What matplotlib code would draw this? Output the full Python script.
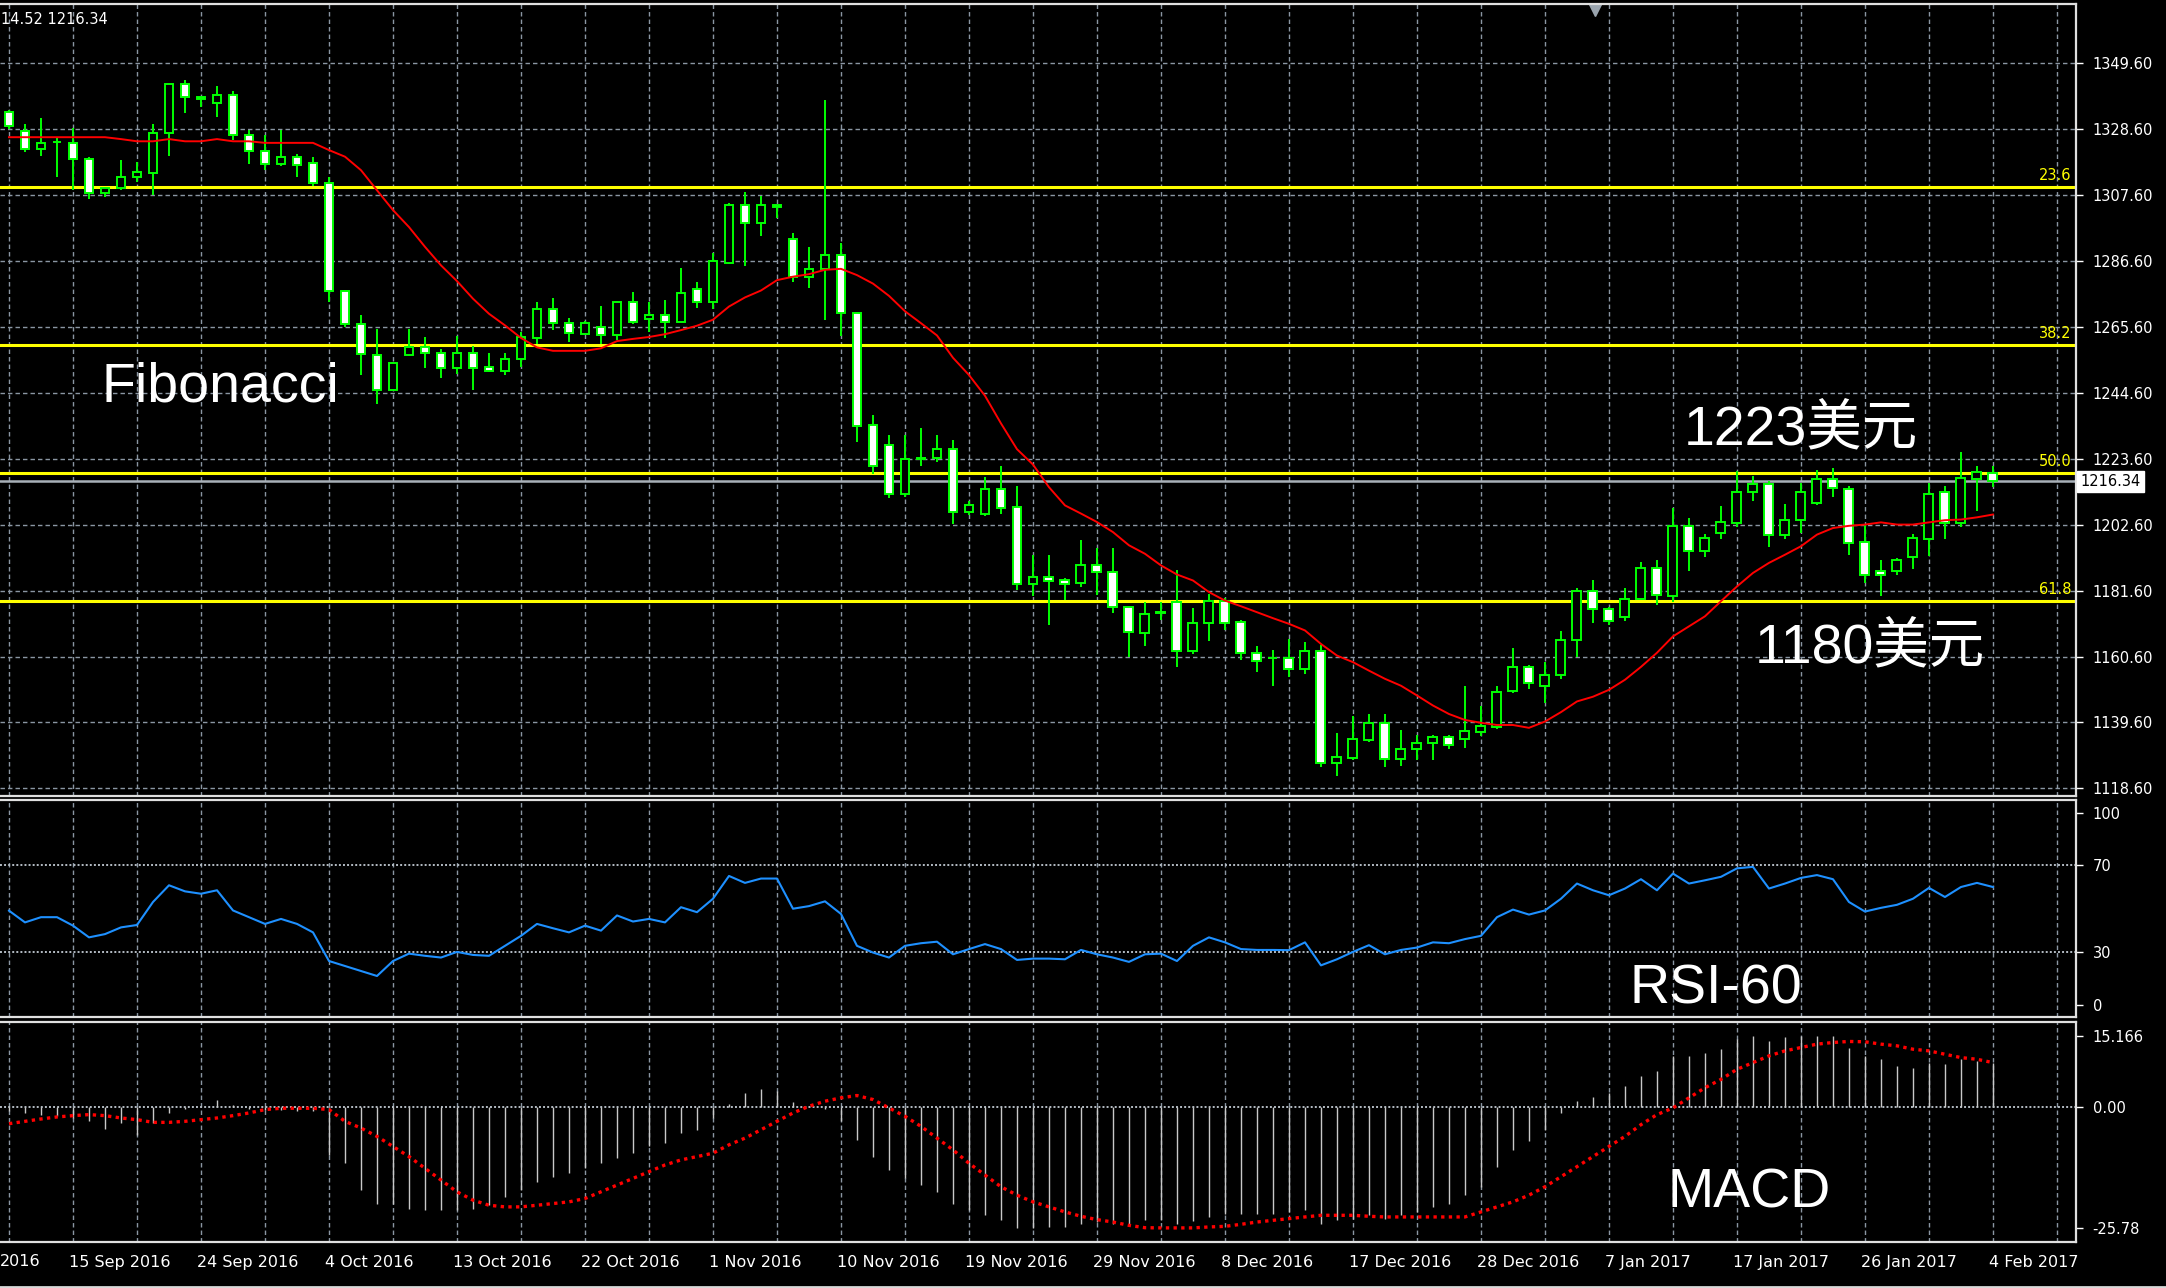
import numpy as np
import matplotlib.pyplot as plt
from matplotlib.transforms import blended_transform_factory
from matplotlib.lines import Line2D

# daily gold candles, one row per bar (open, high, low, close)
opens = [1333.8, 1327.9, 1322.0, 1324.4, 1324.1, 1319.0, 1308.2, 1309.8, 1313.1, 1314.4,
         1327.3, 1342.7, 1338.6, 1336.9, 1339.4, 1326.6, 1321.6, 1317.5, 1319.7, 1317.6,
         1311.4, 1276.9, 1266.5, 1256.5, 1245.5, 1256.5, 1259.1, 1257.2, 1252.5, 1257.2,
         1252.7, 1251.4, 1255.2, 1262.1, 1271.3, 1266.9, 1263.4, 1265.4, 1262.8, 1273.3,
         1268.0, 1269.2, 1267.2, 1277.6, 1273.6, 1285.9, 1304.3, 1298.5, 1304.2, 1293.6,
         1281.3, 1283.9, 1288.4, 1270.0, 1234.3, 1227.9, 1212.3, 1223.6, 1223.9, 1226.6,
         1206.7, 1206.0, 1214.0, 1208.2, 1183.8, 1185.8, 1184.8, 1184.0, 1189.8, 1187.4,
         1176.5, 1168.1, 1174.6, 1177.9, 1162.2, 1171.4, 1178.3, 1171.6, 1161.7, 1160.1,
         1160.1, 1156.6, 1162.5, 1126.6, 1128.4, 1134.1, 1139.4, 1127.9, 1131.1, 1133.0,
         1134.9, 1134.3, 1136.7, 1138.1, 1149.5, 1157.4, 1151.1, 1154.6, 1165.7, 1181.5,
         1175.8, 1173.2, 1178.9, 1188.8, 1180.0, 1202.0, 1194.3, 1199.9, 1203.1, 1212.9,
         1215.5, 1199.4, 1203.9, 1209.5, 1217.2, 1214.0, 1196.9, 1187.9, 1187.9, 1192.3,
         1198.0, 1213.0, 1203.1, 1217.2, 1218.9]
highs = [1334.5, 1330.0, 1331.9, 1326.0, 1328.7, 1319.7, 1310.1, 1318.6, 1318.1, 1330.0,
         1342.9, 1344.1, 1338.9, 1342.2, 1340.7, 1328.2, 1326.6, 1328.2, 1320.4, 1319.7,
         1313.3, 1277.2, 1269.2, 1265.0, 1254.3, 1264.9, 1262.3, 1258.6, 1262.5, 1259.3,
         1257.2, 1257.2, 1263.9, 1273.3, 1274.6, 1268.2, 1267.5, 1272.2, 1273.8, 1276.5,
         1273.3, 1274.0, 1284.2, 1279.8, 1289.2, 1305.1, 1308.4, 1307.3, 1304.4, 1295.5,
         1291.1, 1337.7, 1292.3, 1270.2, 1237.6, 1231.2, 1231.2, 1233.2, 1231.2, 1229.4,
         1210.2, 1217.8, 1221.1, 1214.8, 1192.8, 1193.0, 1185.6, 1197.8, 1195.1, 1195.1,
         1176.8, 1177.9, 1177.9, 1188.2, 1176.0, 1180.5, 1179.2, 1172.1, 1164.0, 1162.7,
         1166.1, 1165.2, 1164.3, 1136.4, 1141.7, 1142.2, 1142.2, 1137.2, 1135.6, 1135.6,
         1135.6, 1151.3, 1144.9, 1151.1, 1163.3, 1158.0, 1158.8, 1168.6, 1182.4, 1185.0,
         1176.5, 1182.4, 1190.7, 1191.4, 1207.9, 1204.7, 1199.6, 1208.6, 1219.6, 1218.2,
         1216.4, 1209.2, 1215.8, 1219.9, 1220.6, 1214.8, 1202.6, 1191.2, 1191.9, 1199.6,
         1215.8, 1214.8, 1225.7, 1221.4, 1221.4]
lows = [1328.5, 1321.3, 1320.0, 1313.1, 1309.2, 1306.1, 1306.9, 1309.0, 1311.7, 1307.4,
        1320.0, 1333.5, 1335.4, 1332.2, 1325.0, 1317.5, 1315.4, 1316.7, 1313.1, 1310.3,
        1273.5, 1265.5, 1250.1, 1241.1, 1245.3, 1256.3, 1252.5, 1249.3, 1250.6, 1245.5,
        1251.3, 1250.1, 1252.7, 1260.1, 1264.5, 1260.6, 1262.8, 1260.1, 1261.4, 1266.5,
        1263.9, 1262.1, 1267.0, 1271.4, 1271.1, 1285.5, 1285.0, 1294.6, 1300.2, 1279.8,
        1277.9, 1267.8, 1262.6, 1228.8, 1218.6, 1211.1, 1211.3, 1221.4, 1222.5, 1202.7,
        1205.8, 1205.2, 1206.0, 1181.9, 1180.0, 1170.7, 1178.7, 1182.7, 1180.3, 1174.4,
        1160.4, 1164.1, 1172.3, 1157.2, 1161.5, 1165.4, 1169.1, 1159.5, 1155.8, 1151.3,
        1154.2, 1155.1, 1125.3, 1122.7, 1127.7, 1133.5, 1125.3, 1125.9, 1127.7, 1127.7,
        1131.2, 1131.4, 1135.3, 1137.5, 1148.9, 1150.2, 1145.7, 1153.4, 1160.4, 1171.2,
        1170.5, 1171.8, 1178.7, 1176.9, 1177.9, 1187.7, 1192.3, 1198.0, 1201.7, 1210.0,
        1195.5, 1198.0, 1199.9, 1208.9, 1211.4, 1193.0, 1184.0, 1180.0, 1186.6, 1188.4,
        1192.7, 1198.0, 1201.8, 1206.8, 1214.6]
closes = [1329.5, 1322.1, 1324.1, 1324.5, 1318.9, 1308.0, 1309.6, 1313.3, 1314.7, 1327.3,
          1342.7, 1338.6, 1338.0, 1339.4, 1326.6, 1321.5, 1317.5, 1319.7, 1316.9, 1311.2,
          1276.9, 1266.5, 1257.0, 1245.5, 1254.0, 1259.1, 1257.2, 1252.5, 1257.2, 1252.5,
          1251.5, 1255.2, 1262.3, 1271.3, 1266.7, 1263.6, 1266.9, 1262.8, 1273.3, 1267.2,
          1269.3, 1267.2, 1276.3, 1273.6, 1286.4, 1304.3, 1298.5, 1304.3, 1303.6, 1281.3,
          1283.9, 1288.4, 1270.0, 1234.1, 1221.4, 1212.3, 1223.5, 1223.9, 1226.6, 1206.7,
          1208.7, 1214.0, 1208.0, 1183.8, 1185.8, 1184.7, 1183.6, 1189.8, 1187.4, 1176.5,
          1168.3, 1174.1, 1174.7, 1162.5, 1171.4, 1178.3, 1171.2, 1161.7, 1159.3, 1160.2,
          1156.6, 1162.5, 1126.6, 1128.7, 1134.4, 1139.4, 1127.9, 1131.2, 1133.2, 1135.1,
          1132.5, 1137.0, 1138.5, 1149.2, 1157.4, 1152.1, 1154.8, 1165.7, 1181.6, 1175.8,
          1171.8, 1179.0, 1188.8, 1180.3, 1202.3, 1194.3, 1198.3, 1203.4, 1213.0, 1215.5,
          1199.4, 1203.9, 1213.0, 1217.2, 1214.3, 1196.7, 1186.6, 1186.6, 1191.4, 1198.3,
          1212.3, 1203.1, 1217.4, 1219.4, 1216.34]

# red moving average
ma = [1325.9, 1325.9, 1325.9, 1325.9, 1325.9, 1325.9, 1325.9, 1325.3, 1324.6, 1324.6,
      1325.3, 1324.6, 1324.6, 1325.3, 1324.6, 1324.6, 1324.1, 1324.1, 1324.1, 1324.1,
      1321.8, 1319.7, 1315.4, 1309.0, 1302.7, 1297.3, 1291.0, 1285.1, 1280.1, 1274.5,
      1269.7, 1266.0, 1262.0, 1259.0, 1257.9, 1257.9, 1257.9, 1258.7, 1261.0, 1261.7,
      1262.3, 1263.2, 1264.5, 1265.9, 1267.8, 1272.0, 1274.9, 1277.1, 1280.4, 1281.5,
      1282.3, 1283.7, 1284.0, 1282.0, 1279.3, 1275.4, 1270.5, 1266.7, 1262.8, 1255.7,
      1250.2, 1243.6, 1234.8, 1226.6, 1221.7, 1214.5, 1208.7, 1206.1, 1203.4, 1200.2,
      1196.0, 1193.3, 1189.6, 1186.7, 1184.8, 1181.1, 1178.4, 1176.6, 1174.7, 1172.8,
      1171.0, 1168.9, 1164.6, 1160.9, 1158.8, 1156.1, 1153.5, 1151.3, 1148.2, 1145.0,
      1142.3, 1140.4, 1139.5, 1138.8, 1138.8, 1137.9, 1139.9, 1142.9, 1146.3, 1147.8,
      1150.0, 1153.2, 1157.3, 1161.8, 1167.0, 1170.2, 1173.4, 1178.2, 1182.9, 1187.2,
      1190.4, 1193.0, 1195.7, 1199.4, 1201.5, 1202.2, 1202.6, 1203.3, 1202.6, 1202.6,
      1203.3, 1204.0, 1204.2, 1204.9, 1205.8]

rsi = [49.0, 43.6, 46.0, 46.0, 42.1, 36.7, 38.2, 41.3, 42.4, 53.0,
       60.7, 57.9, 56.8, 58.4, 49.1, 46.0, 42.9, 45.2, 42.9, 39.0,
       25.8, 23.5, 21.2, 18.9, 25.8, 29.2, 28.2, 27.4, 30.0, 28.6,
       28.2, 32.8, 37.4, 42.9, 40.9, 39.0, 42.1, 39.8, 46.8, 44.0,
       45.2, 43.6, 50.6, 48.3, 54.5, 65.0, 61.8, 63.8, 63.8, 49.9,
       51.1, 53.3, 47.5, 32.8, 29.7, 27.4, 32.8, 34.0, 34.7, 28.9,
       31.3, 33.6, 31.3, 26.3, 26.9, 26.9, 26.6, 30.9, 28.9, 27.4,
       25.4, 28.9, 29.2, 25.8, 32.8, 36.7, 34.4, 31.3, 30.9, 30.9,
       30.8, 34.4, 23.8, 26.6, 30.0, 33.1, 28.9, 30.9, 32.0, 34.4,
       34.0, 35.9, 37.4, 46.0, 49.5, 47.2, 49.1, 54.5, 61.5, 58.4,
       56.1, 59.2, 63.5, 58.4, 66.1, 61.5, 63.0, 64.6, 68.5, 69.2,
       59.2, 61.5, 64.1, 65.4, 63.5, 53.0, 48.6, 50.3, 51.7, 54.5,
       59.5, 55.3, 59.9, 61.8, 59.9]

macd_hist = [-0.89, -1.25, -1.60, -1.96, -2.32, -3.03, -4.67, -3.39, -5.89, -3.39,
             -1.25, -0.39, 0.04, 1.61, 0.54, -0.39, -0.53, -0.53, -0.89, -0.89,
             -10.17, -11.95, -17.66, -20.52, -20.52, -21.59, -21.95, -21.95, -21.95, -21.59,
             -20.88, -19.09, -17.66, -15.88, -14.81, -14.10, -13.02, -11.95, -10.88, -9.81,
             -8.38, -7.67, -5.53, -4.82, -2.32, 0.75, 3.04, 3.75, 3.39, 1.04,
             0.18, -0.39, -3.03, -6.96, -10.53, -13.38, -15.17, -16.59, -18.02, -20.52,
             -21.95, -23.02, -24.09, -25.78, -25.78, -25.52, -25.52, -24.80, -24.45, -24.80,
             -24.80, -24.09, -23.94, -24.80, -24.23, -23.37, -22.66, -22.66, -22.66, -22.66,
             -22.30, -21.95, -24.80, -24.09, -23.73, -23.02, -23.73, -23.02, -22.30, -21.23,
             -20.52, -18.73, -16.95, -12.67, -9.10, -7.31, -4.82, -1.25, 1.25, 2.18,
             3.04, 4.46, 6.60, 7.67, 10.89, 10.89, 11.60, 12.46, 14.46, 15.17,
             14.10, 14.90, 15.17, 15.17, 15.03, 12.67, 10.89, 10.17, 8.75, 8.39,
             9.46, 9.10, 10.17, 9.82, 9.46]
macd_signal = [-3.53, -3.03, -2.53, -2.10, -1.82, -1.60, -1.82, -2.32, -2.67, -3.25,
               -3.25, -3.03, -2.67, -2.32, -1.82, -1.25, -0.53, -0.25, -0.25, -0.25,
               -0.53, -3.03, -4.46, -6.24, -8.38, -10.53, -13.02, -15.52, -18.02, -19.80,
               -20.88, -21.23, -21.23, -20.88, -20.52, -20.16, -19.45, -18.02, -16.59, -15.17,
               -13.74, -12.31, -11.24, -10.53, -9.81, -8.03, -6.60, -4.82, -3.03, -1.25,
               0.18, 1.25, 1.97, 2.46, 1.61, -0.18, -1.96, -4.10, -6.60, -9.10,
               -11.95, -14.45, -16.95, -18.73, -20.16, -21.23, -22.30, -23.23, -23.94, -24.45,
               -25.16, -25.66, -25.70, -25.70, -25.70, -25.50, -25.37, -24.94, -24.45, -24.09,
               -23.73, -23.37, -23.02, -23.02, -23.02, -23.23, -23.37, -23.37, -23.37, -23.37,
               -23.37, -23.37, -22.30, -21.23, -20.16, -18.73, -16.95, -14.81, -12.67, -10.53,
               -8.38, -6.24, -3.74, -1.60, -0.18, 1.97, 4.11, 5.89, 8.03, 9.46,
               10.89, 11.96, 12.67, 13.39, 13.74, 13.96, 13.89, 13.39, 13.03, 12.31,
               11.96, 11.24, 10.53, 10.17, 9.46]

fib_names = ["23.6", "38.2", "50.0", "61.8"]
fib_prices = [1310.0, 1259.6, 1218.9, 1178.2]
last_price = 1216.34

price_ticks = [1118.6, 1139.6, 1160.6, 1181.6, 1202.6, 1223.6, 1244.6, 1265.6, 1286.6, 1307.6, 1328.6, 1349.6]
# first label is cut off at the left edge in the original, only "2016" shows
date_bars = [4, 12, 20, 28, 36, 44, 52, 60, 68, 76, 84, 92, 100, 108, 116, 124]
date_labels = ["15 Sep 2016", "24 Sep 2016", "4 Oct 2016", "13 Oct 2016",
               "22 Oct 2016", "1 Nov 2016", "10 Nov 2016", "19 Nov 2016", "29 Nov 2016",
               "8 Dec 2016", "17 Dec 2016", "28 Dec 2016", "7 Jan 2017", "17 Jan 2017",
               "26 Jan 2017", "4 Feb 2017"]

GREEN = "#00ff00"
GRID = "#8a96a3"
W, H = 2166, 1288
XMIN, XMAX = -0.5625, 129.19
AXFONT = dict(family="DejaVu Sans", size=10.5, color="white")

x = np.arange(len(opens))
o = np.array(opens); c = np.array(closes)
hi = np.array(highs); lo = np.array(lows)

fig = plt.figure(figsize=(W / 100, H / 100), dpi=100, facecolor="black")

def pane(top, bottom):
    ax = fig.add_axes([0, 1 - bottom / H, 2076 / W, (bottom - top) / H])
    ax.set_facecolor("black")
    ax.spines["left"].set_visible(False)
    for s in ("top", "bottom", "right"):
        ax.spines[s].set_color("#e0e0e0")
        ax.spines[s].set_linewidth(1.6)
    ax.yaxis.tick_right()
    ax.tick_params(axis="y", colors="white", direction="out", length=5, width=1, pad=7,
                   labelsize=10.5)
    ax.set_xticks(np.arange(0, 129, 4))
    ax.tick_params(axis="x", length=0, labelbottom=False)
    ax.grid(True, axis="x", color=GRID, linestyle=(0, (3.2, 2.2)), linewidth=1, zorder=0)
    ax.set_axisbelow(True)
    ax.set_xlim(XMIN, XMAX)
    return ax

# ---- price pane ----
ax = pane(4, 796)
ax.set_ylim(1116.2, 1368.3)
ax.set_yticks(price_ticks)
ax.set_yticklabels(["%.2f" % t for t in price_ticks])
ax.grid(True, axis="y", color=GRID, linestyle=(0, (3.2, 2.2)), linewidth=1)

for name, p in zip(fib_names, fib_prices):
    ax.axhline(p, color="#ffff00", linewidth=2.2, zorder=1.5)
    ax.text(0.998, p + 1.3, name, transform=blended_transform_factory(ax.transAxes, ax.transData),
            ha="right", va="bottom", color="#ffff00", fontsize=10.5, family="DejaVu Sans")
ax.axhline(last_price, color="#a8b0b8", linewidth=1.8, zorder=1.4)

up = c >= o
ax.vlines(x, lo, hi, color=GREEN, linewidth=1.4, zorder=2)
ax.bar(x, np.abs(c - o), bottom=np.minimum(o, c), width=0.56,
       color=np.where(up, "black", "white"), edgecolor=GREEN, linewidth=1.4, zorder=3)
ax.plot(x, ma, color="#ff0000", linewidth=1.4, zorder=4)

ax.text(1.002, last_price, "%.2f" % last_price, transform=blended_transform_factory(ax.transAxes, ax.transData),
        ha="left", va="center", color="black", fontsize=10.5, family="DejaVu Sans", zorder=6,
        bbox=dict(boxstyle="square,pad=0.22", facecolor="white", edgecolor="white"), clip_on=False)
ax.plot([99.1], [0.992], marker="v", markersize=8, color="#9aa4ae",
        transform=blended_transform_factory(ax.transData, ax.transAxes), clip_on=False)
ax.set_xlim(XMIN, XMAX)

# ---- RSI pane ----
ar = pane(800, 1017)
ar.set_ylim(0, 100)
ar.set_yticks([5.7, 30, 70, 94])
ar.set_yticklabels(["0", "30", "70", "100"])
for lvl in (30, 70):
    ar.axhline(lvl, color="#b4bcc4", linestyle=(0, (1, 1.1)), linewidth=1.4, zorder=1)
ar.plot(x, rsi, color="#1e90ff", linewidth=1.5, zorder=3)
ar.set_xlim(XMIN, XMAX)

# ---- MACD pane ----
am = pane(1022, 1242)
am.set_ylim(-28.7, 18.1)
am.set_yticks([-25.78, 0, 15.166])
am.set_yticklabels(["-25.78", "0.00", "15.166"])
am.axhline(0, color="#b4bcc4", linestyle=(0, (1, 1.1)), linewidth=1.4, zorder=1)
am.vlines(x, 0, macd_hist, color="#c8c8c8", linewidth=1, zorder=2)
am.plot(x, macd_signal, color="#ff0000", linestyle=(0, (1, 1.3)), linewidth=2.4, zorder=3)

am.set_xticks(date_bars, minor=True)
am.tick_params(axis="x", which="minor", length=5, width=1, color="white", direction="out")
am.set_xlim(XMIN, XMAX)
bt = blended_transform_factory(am.transData, am.transAxes)
for b, lab in zip(date_bars, date_labels):
    am.text(b - 0.25, -0.095, lab, transform=bt, ha="left", va="center", clip_on=False,
            family="DejaVu Sans", size=11.5, color="white")
fig.text(0, 1 - 1262 / H, "2016", ha="left", va="center", family="DejaVu Sans", size=11.5, color="white")

# ---- annotations ----
big = dict(color="white", fontsize=40, va="baseline")
fig.text(101 / W, 1 - 401 / H, "Fibonacci", family=["Liberation Sans", "DejaVu Sans"], **big)
fig.text(1684 / W, 1 - 444 / H, "1223美元", family=["Liberation Sans", "Noto Sans CJK SC"], **big)
fig.text(1755 / W, 1 - 662 / H, "1180美元", family=["Liberation Sans", "Noto Sans CJK SC"], **big)
fig.text(1630 / W, 1 - 1003 / H, "RSI-60", family=["Liberation Sans", "DejaVu Sans"], **big)
fig.text(1667 / W, 1 - 1208 / H, "MACD", family=["Liberation Sans", "DejaVu Sans"], **big)
fig.text(1 / W, 1 - 20 / H, "14.52 1216.34", ha="left", va="center", **AXFONT)
fig.add_artist(Line2D([0, 1], [1.5 / H, 1.5 / H], transform=fig.transFigure, color="#d8d8d8", linewidth=2))

fig.savefig("out.png", dpi=100, facecolor="black")
